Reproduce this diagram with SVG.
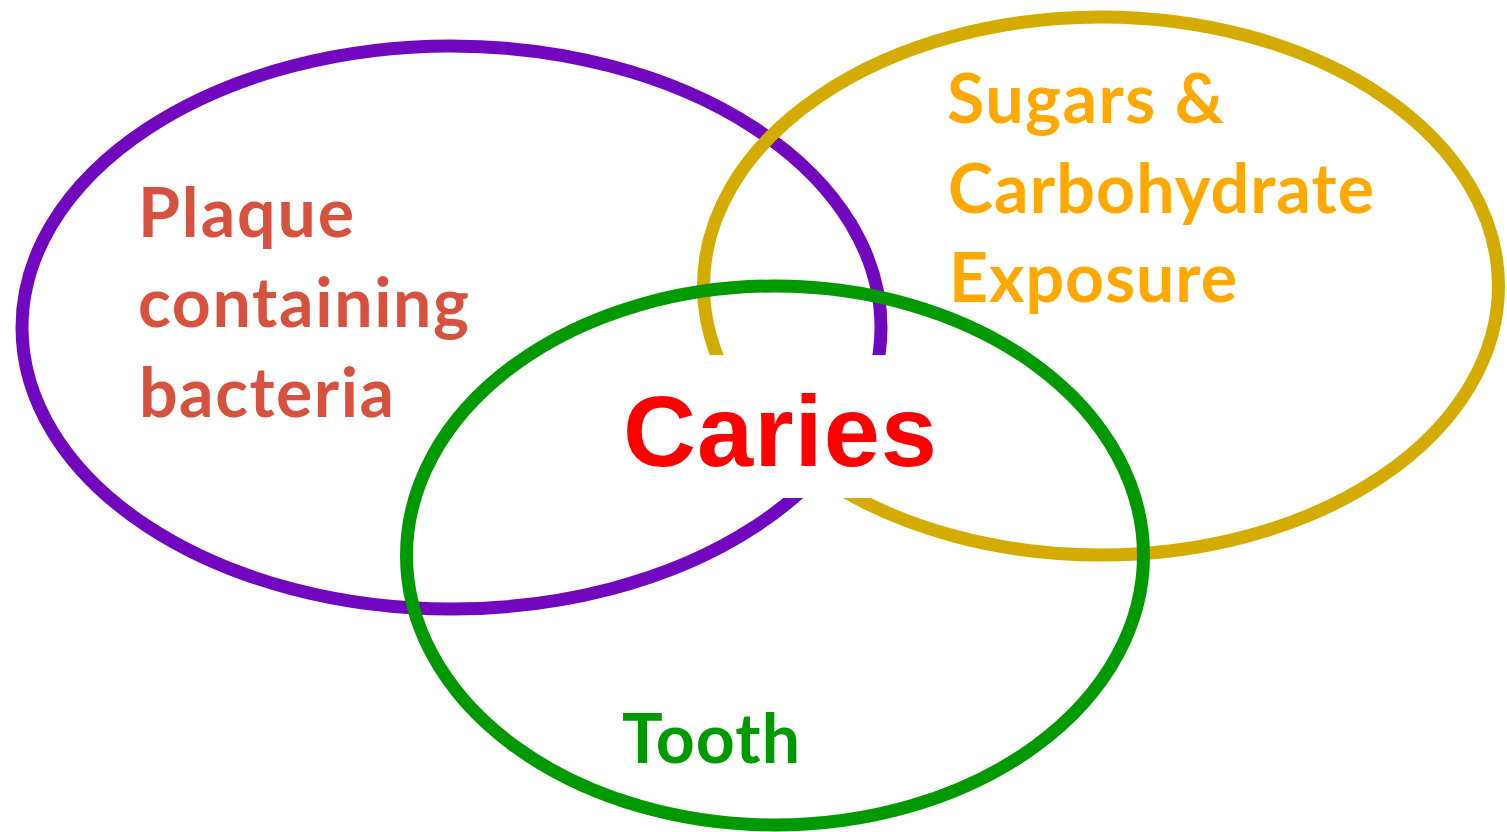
<svg xmlns="http://www.w3.org/2000/svg" width="1507" height="832" viewBox="0 0 1507 832">
  <style>
    .ring { fill: none; stroke-width: 13; }
    .lbl { font-family: Lato, "Open Sans", "Liberation Sans", sans-serif; font-weight: 700; font-size: 68px; }
    .plaque { fill: #D6523F; }
    .sugar { fill: #FFA800; }
    .tooth { fill: #009A00; }
    .caries { font-family: "Liberation Sans", Arial, sans-serif; font-weight: 700; font-size: 101px; fill: #FF0000; }
  </style>
  <rect x="0" y="0" width="1507" height="832" fill="#FFFFFF"/>
  <g id="plaque">
    <ellipse class="ring" cx="451.5" cy="327.5" rx="429.5" ry="281.5" stroke="#7107BE"/>
  </g>
  <g id="sugars">
    <ellipse class="ring" cx="1101" cy="286" rx="397.5" ry="269" stroke="#D4AC00"/>
  </g>
  <g id="caries-box">
    <rect x="690" y="355" width="210" height="143" fill="#FFFFFF"/>
  </g>
  <g id="tooth">
    <ellipse class="ring" cx="775" cy="555.5" rx="368.5" ry="269.5" stroke="#009900"/>
  </g>
  <g id="plaque-label">
    <text class="lbl plaque" x="138" y="237" textLength="216">Plaque</text>
    <text class="lbl plaque" x="138" y="327" textLength="331">containing</text>
    <text class="lbl plaque" x="139" y="417" textLength="255">bacteria</text>
  </g>
  <g id="sugars-label">
    <text class="lbl sugar" x="947" y="123" textLength="277">Sugars &amp;</text>
    <text class="lbl sugar" x="948" y="213" textLength="426">Carbohydrate</text>
    <text class="lbl sugar" x="949" y="302" textLength="288">Exposure</text>
  </g>
  <g id="tooth-label">
    <text class="lbl tooth" x="622" y="763" textLength="178">Tooth</text>
  </g>
  <g id="caries">
    <text class="caries" x="623" y="466" textLength="314">Caries</text>
  </g>
  <g id="connectors"/>
</svg>
